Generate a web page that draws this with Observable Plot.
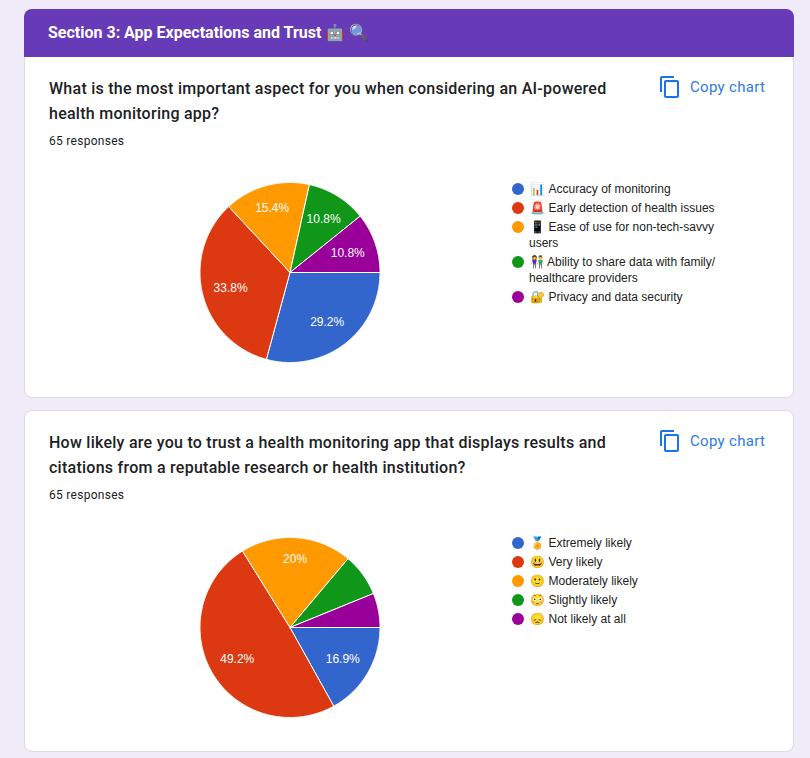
<!DOCTYPE html>
<html><head><meta charset="utf-8">
<script src="https://cdn.jsdelivr.net/npm/d3@7"></script>
<script src="https://cdn.jsdelivr.net/npm/@observablehq/plot@0.6"></script>
<style>
html,body{margin:0;padding:0;background:#f0ebf8;width:810px;height:758px;overflow:hidden;font-family:Roboto,sans-serif;}
.card{position:absolute;left:24px;width:768px;background:#fff;border:1px solid #dadce0;border-radius:8px;}
.head{position:absolute;left:24px;top:9px;width:770px;height:48px;background:#673ab7;border-radius:8px 8px 0 0;color:#fff;font:700 16px/47px Roboto,sans-serif;box-sizing:border-box;padding-left:24px;white-space:pre;}
.q{position:absolute;left:49px;width:600px;font:500 16px/25px Roboto,sans-serif;color:#202124;letter-spacing:.26px;white-space:nowrap;}
.resp{position:absolute;left:49px;font:400 12px/16px Roboto,sans-serif;color:#202124;letter-spacing:.28px;}
.copy{position:absolute;left:690px;font:400 15px/20px Roboto,sans-serif;color:#2f7ae5;letter-spacing:.3px;}
.ic{position:absolute;left:658px;width:24px;height:24px;fill:#1a73e8;}
.lg{position:absolute;left:512px;font:12px/16px "Liberation Sans",Arial,sans-serif;color:#222;}
.lg .row{position:relative;padding-left:17px;margin-bottom:3px;white-space:pre;}
.lg .dot{position:absolute;left:0;top:2px;width:12px;height:12px;border-radius:50%;}
.lg .em{display:inline-block;box-sizing:border-box;padding-left:1px;}
.pie{position:absolute;}
.pie svg{display:block;overflow:visible;}
</style></head><body>
<div class="card" style="top:40px;height:356px"></div>
<div class="head">Section 3: App Expectations and Trust 🤖 🔍</div>
<div class="card" style="top:410px;height:340px"></div>
<div id="root"></div>
<script>
const colors = ["#3366cc","#dc3912","#ff9900","#109618","#990099"];
const categoriesA = ["Accuracy of monitoring","Early detection of health issues","Ease of use for non-tech-savvy users","Ability to share data with family/healthcare providers","Privacy and data security"];
const countsA = [19,22,10,7,7];
const emojiA = ["📊","🚨","📱","👫","🔐"];
const linesA = [["Accuracy of monitoring"],["Early detection of health issues"],["Ease of use for non-tech-savvy","users"],["Ability to share data with family/","healthcare providers"],["Privacy and data security"]];
const categoriesB = ["Extremely likely","Very likely","Moderately likely","Slightly likely","Not likely at all"];
const countsB = [11,32,13,5,4];
const emojiB = ["🏅","😃","🙂","😳","😞"];
const linesB = [["Extremely likely"],["Very likely"],["Moderately likely"],["Slightly likely"],["Not likely at all"]];

const root = document.getElementById("root");
function add(html){const t=document.createElement("template");t.innerHTML=html;const n=t.content.firstChild;root.appendChild(n);return n;}

function pie(categories, counts, left, top){
  const total = d3.sum(counts);
  const arcs = d3.pie().sort(null).startAngle(Math.PI/2).endAngle(Math.PI*2.5)(counts);
  const px = a => Math.sin(a), py = a => Math.cos(a);
  const pts = [];
  arcs.forEach((s,i)=>{
    const n = Math.max(2,Math.ceil((s.endAngle-s.startAngle)/0.01));
    pts.push({c:categories[i],x:0,y:0});
    for(let k=0;k<=n;k++){const a=s.startAngle+(s.endAngle-s.startAngle)*k/n;pts.push({c:categories[i],x:px(a),y:py(a)});}
    pts.push({c:categories[i],x:0,y:0});
  });
  const labels = arcs.map((s,i)=>{
    const a=(s.startAngle+s.endAngle)/2, p=counts[i]/total*100;
    const up=Math.max(0,py(a));
    const r=0.68+0.1*Math.pow(up,8);
    return {x:r*px(a),y:r*py(a),p,t:(+p.toFixed(1))+"%"};
  }).filter(d=>d.p>=10);
  const fig = Plot.plot({
    width:200,height:200,margin:0,
    x:{domain:[-1,1],range:[9.5,189.5],axis:null},
    y:{domain:[-1,1],range:[190,10],axis:null},
    color:{domain:categories,range:colors},
    marks:[
      Plot.line(pts,{x:"x",y:"y",z:"c",fill:"c",stroke:"#fff",strokeWidth:1,strokeLinejoin:"round"}),
      Plot.text(labels,{x:"x",y:"y",text:"t",dy:1,fill:"#fff",fontSize:12,fontFamily:"'Liberation Sans',Arial,sans-serif"})
    ],
    style:{background:"transparent"}
  });
  fig.classList.add("pie");
  fig.style.left=left+"px";fig.style.top=top+"px";
  root.appendChild(fig);
}
function legend(emoji, rows, top){
  const d=add(`<div class="lg" style="top:${top}px"></div>`);
  rows.forEach((r,i)=>{
    const e=document.createElement("div");e.className="row";
    const dot=document.createElement("span");dot.className="dot";dot.style.background=colors[i];e.appendChild(dot);
    const first=document.createElement("div");
    const em=document.createElement("span");em.className="em";em.textContent=emoji[i];
    em.style.width=(r[0].startsWith("Ability")?18:19.5)+"px";first.appendChild(em);
    const tx=document.createElement("span");tx.textContent=r[0];first.appendChild(tx);
    e.appendChild(first);
    if(r[1]){const sec=document.createElement("div");sec.textContent=r[1];e.appendChild(sec);}
    d.appendChild(e);
  });
}
const iconPath="M16 1H4c-1.1 0-2 .9-2 2v14h2V3h12V1zm3 4H8c-1.1 0-2 .9-2 2v14c0 1.1.9 2 2 2h11c1.1 0 2-.9 2-2V7c0-1.1-.9-2-2-2zm0 16H8V7h11v14z";
function chrome(q1,q2,top){
  add(`<div class="q" style="top:${top}px">${q1}<br>${q2}</div>`);
  add(`<div class="resp" style="top:${top+57}px">65 responses</div>`);
  add(`<svg class="ic" viewBox="0 0 24 24" style="top:${top-1}px"><path d="${iconPath}"/></svg>`);
  add(`<div class="copy" style="top:${top+1}px">Copy chart</div>`);
}
chrome("What is the most important aspect for you when considering an AI-powered","health monitoring app?",76);
chrome("How likely are you to trust a health monitoring app that displays results and","citations from a reputable research or health institution?",430);
pie(categoriesA,countsA,190,172);
pie(categoriesB,countsB,190,527);
legend(emojiA,linesA,181);
legend(emojiB,linesB,535);
</script>
</body></html>
